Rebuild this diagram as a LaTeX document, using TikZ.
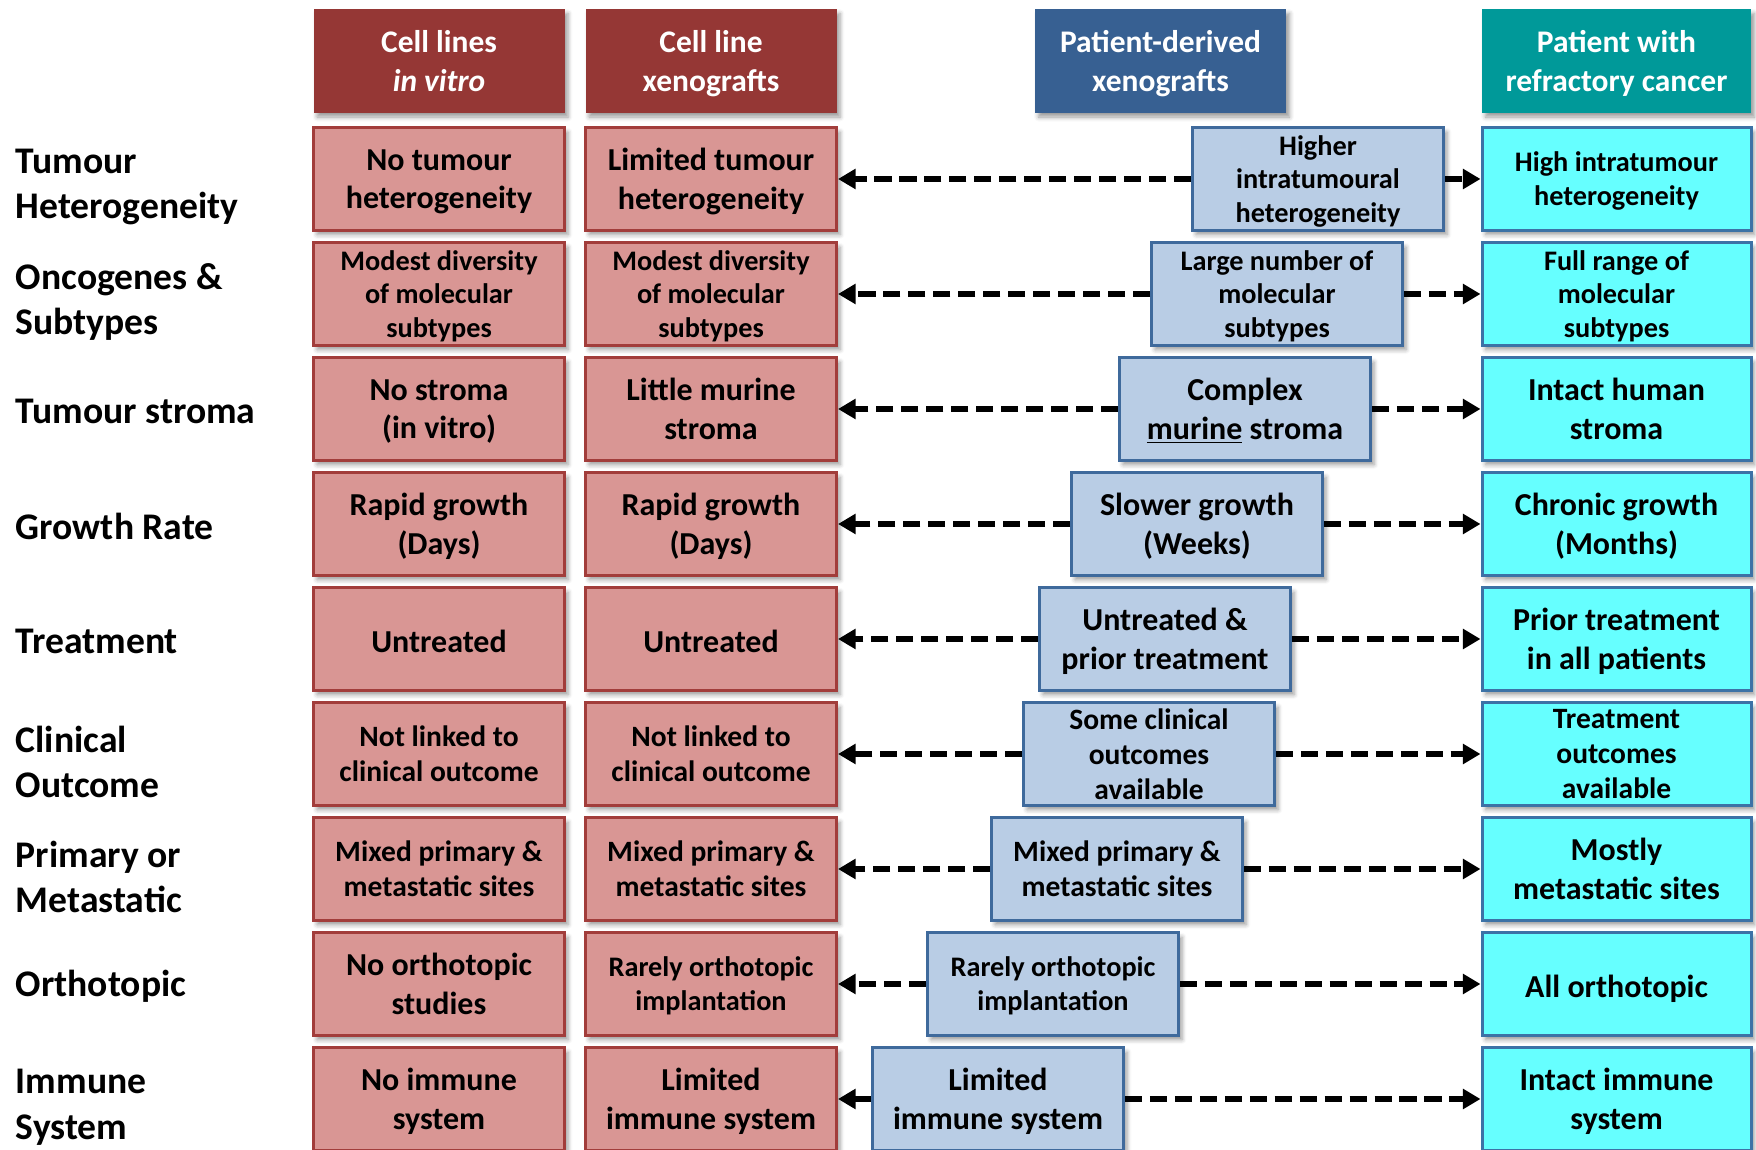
\documentclass[tikz,border=0pt]{standalone}
\usepackage{fontspec}
\setmainfont{Carlito}
\usepackage{tikz}
\usetikzlibrary{arrows.meta,shadows.blur}
\usepackage{xcolor}
\definecolor{brick}{HTML}{953735}
\definecolor{rose}{HTML}{D99694}
\definecolor{roseline}{HTML}{A23D3B}
\definecolor{navyhead}{HTML}{376092}
\definecolor{sky}{HTML}{B9CDE5}
\definecolor{skyline}{HTML}{3F6A9C}
\definecolor{tealhead}{HTML}{009999}
\definecolor{aqua}{HTML}{66FFFF}
\definecolor{aqualine}{HTML}{3C72A6}

\begin{document}
\begin{tikzpicture}[
    cell/.style={draw, line width=1.7pt, minimum width=5.02cm, minimum height=2.05cm, inner xsep=1pt, inner ysep=0.3pt, align=center,
        font=\fontsize{18.2}{22}\selectfont\bfseries, text depth=-1pt, execute at begin node={\rule{0pt}{0.85em}},
        blur shadow={shadow xshift=2pt, shadow yshift=-2.5pt, shadow blur radius=2.5pt, shadow opacity=40}},
    hdr/.style={cell, draw=none, text=white, minimum height=2.07cm, text depth=0pt, font=\fontsize{17.9}{21.8}\selectfont\bfseries},
    vit/.style={cell, fill=rose, draw=roseline},
    pdx/.style={cell, fill=sky, draw=skyline},
    pat/.style={cell, fill=aqua, draw=aqualine, minimum width=5.38cm},
    txtmid/.style={font=\fontsize{16.8}{19.8}\selectfont\bfseries},
    txtsmall/.style={font=\fontsize{16.1}{19.3}\selectfont\bfseries},
    rowlab/.style={anchor=west, align=left, inner xsep=0pt, font=\fontsize{21.4}{26}\selectfont\bfseries},
    link/.style={-{Triangle[length=10pt,width=11pt]}, line width=3.4pt, dash pattern=on 9.8pt off 4.4pt},
]
\useasboundingbox (0,0) rectangle (35.12,23);

\node[hdr, fill=brick] (vitro) at (8.78, 21.78) {Cell lines\\\textit{in vitro}};
\node[hdr, fill=brick] (xeno) at (14.22, 21.78) {Cell line\\xenografts};
\node[hdr, fill=navyhead] (pdx) at (23.21, 21.78) {Patient-derived\\xenografts};
\node[hdr, fill=tealhead, minimum width=5.38cm] (patient) at (32.33, 21.78) {Patient with\\refractory cancer};

\node[rowlab] (heterogeneity) at (0.31, 19.26) {Tumour\\Heterogeneity};
\node[rowlab] (oncogenes) at (0.31, 16.96) {Oncogenes \&\\Subtypes};
\node[rowlab] (stroma) at (0.31, 14.78) {Tumour stroma};
\node[rowlab] (growth) at (0.31, 12.48) {Growth Rate};
\node[rowlab] (treatment) at (0.31, 10.18) {Treatment};
\node[rowlab] (outcome) at (0.31, 7.76) {Clinical\\Outcome};
\node[rowlab] (primary) at (0.31, 5.46) {Primary or\\Metastatic};
\node[rowlab] (orthotopic) at (0.31, 3.28) {Orthotopic};
\node[rowlab] (immune) at (0.31, 0.86) {Immune\\System};

\node[vit] (vitro1) at (8.78, 19.42) {No tumour\\heterogeneity};
\node[vit, txtsmall] (vitro2) at (8.78, 17.12) {Modest diversity\\of molecular\\subtypes};
\node[vit] (vitro3) at (8.78, 14.82) {No stroma\\(in vitro)};
\node[vit] (vitro4) at (8.78, 12.52) {Rapid growth\\(Days)};
\node[vit] (vitro5) at (8.78, 10.22) {Untreated};
\node[vit, txtmid] (vitro6) at (8.78, 7.92) {Not linked to\\clinical outcome};
\node[vit, txtmid] (vitro7) at (8.78, 5.62) {Mixed primary \&\\metastatic sites};
\node[vit] (vitro8) at (8.78, 3.32) {No orthotopic\\studies};
\node[vit] (vitro9) at (8.78, 1.02) {No immune\\system};

\node[vit] (xeno1) at (14.22, 19.42) {Limited tumour\\heterogeneity};
\node[vit, txtsmall] (xeno2) at (14.22, 17.12) {Modest diversity\\of molecular\\subtypes};
\node[vit] (xeno3) at (14.22, 14.82) {Little murine\\stroma};
\node[vit] (xeno4) at (14.22, 12.52) {Rapid growth\\(Days)};
\node[vit] (xeno5) at (14.22, 10.22) {Untreated};
\node[vit, txtmid] (xeno6) at (14.22, 7.92) {Not linked to\\clinical outcome};
\node[vit, txtmid] (xeno7) at (14.22, 5.62) {Mixed primary \&\\metastatic sites};
\node[vit, txtsmall] (xeno8) at (14.22, 3.32) {Rarely orthotopic\\implantation};
\node[vit] (xeno9) at (14.22, 1.02) {Limited\\immune system};

\node[pdx, txtsmall] (pdx1) at (26.36, 19.42) {Higher\\intratumoural\\heterogeneity};
\node[pdx, txtsmall] (pdx2) at (25.54, 17.12) {Large number of\\molecular\\subtypes};
\node[pdx] (pdx3) at (24.90, 14.82) {Complex\\\underline{murine} stroma};
\node[pdx] (pdx4) at (23.94, 12.52) {Slower growth\\(Weeks)};
\node[pdx] (pdx5) at (23.30, 10.22) {Untreated \&\\prior treatment};
\node[pdx, txtmid] (pdx6) at (22.98, 7.92) {Some clinical\\outcomes\\available};
\node[pdx, txtmid] (pdx7) at (22.34, 5.62) {Mixed primary \&\\metastatic sites};
\node[pdx, txtsmall] (pdx8) at (21.06, 3.32) {Rarely orthotopic\\implantation};
\node[pdx] (pdx9) at (19.96, 1.02) {Limited\\immune system};

\node[pat, txtsmall] (pat1) at (32.33, 19.42) {High intratumour\\heterogeneity};
\node[pat, txtsmall] (pat2) at (32.33, 17.12) {Full range of\\molecular\\subtypes};
\node[pat] (pat3) at (32.33, 14.82) {Intact human\\stroma};
\node[pat] (pat4) at (32.33, 12.52) {Chronic growth\\(Months)};
\node[pat] (pat5) at (32.33, 10.22) {Prior treatment\\in all patients};
\node[pat, txtmid] (pat6) at (32.33, 7.92) {Treatment\\outcomes\\available};
\node[pat] (pat7) at (32.33, 5.62) {Mostly\\metastatic sites};
\node[pat] (pat8) at (32.33, 3.32) {All orthotopic};
\node[pat] (pat9) at (32.33, 1.02) {Intact immune\\system};

\draw[link] (pdx1) -- (xeno1);
\draw[link] (pdx1) -- (pat1);
\draw[link] (pdx2) -- (xeno2);
\draw[link] (pdx2) -- (pat2);
\draw[link] (pdx3) -- (xeno3);
\draw[link] (pdx3) -- (pat3);
\draw[link] (pdx4) -- (xeno4);
\draw[link] (pdx4) -- (pat4);
\draw[link] (pdx5) -- (xeno5);
\draw[link] (pdx5) -- (pat5);
\draw[link] (pdx6) -- (xeno6);
\draw[link] (pdx6) -- (pat6);
\draw[link] (pdx7) -- (xeno7);
\draw[link] (pdx7) -- (pat7);
\draw[link] (pdx8) -- (xeno8);
\draw[link] (pdx8) -- (pat8);
\draw[link] (pdx9) -- (xeno9);
\draw[link] (pdx9) -- (pat9);

\end{tikzpicture}
\end{document}
